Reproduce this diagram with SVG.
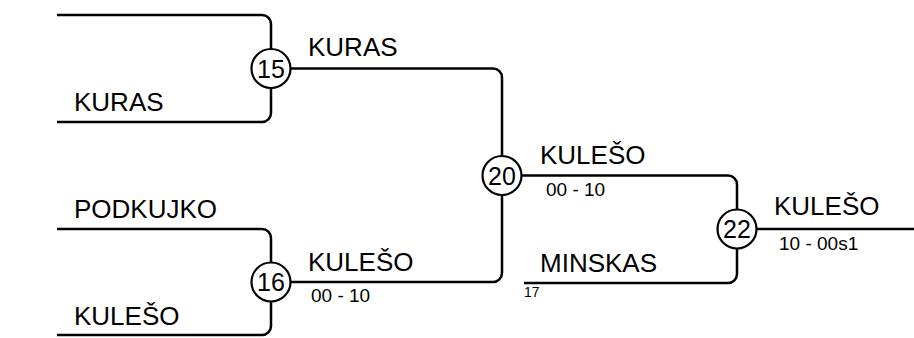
<svg xmlns="http://www.w3.org/2000/svg" width="914" height="338" viewBox="0 0 914 338">
<style>
.ln{fill:none;stroke:#000;stroke-width:2.5}
.c{fill:#fff;stroke:#000;stroke-width:2.2}
.big{font-family:"Liberation Sans",Arial,sans-serif;font-size:26px;fill:#000}
.sm{font-family:"Liberation Sans",Arial,sans-serif;font-size:19px;fill:#000}
.xs{font-family:"Liberation Sans",Arial,sans-serif;font-size:14px;fill:#000}
.num{font-family:"Liberation Sans",Arial,sans-serif;font-size:25px;fill:#000;text-anchor:middle}
</style>
<rect width="914" height="338" fill="#fff"/>
<g id="connectors">
<path class="ln" d="M57,15 H262 A9,9 0 0 1 271,24 V113 A9,9 0 0 1 262,122 H57"/>
<path class="ln" d="M57,229 H262 A9,9 0 0 1 271,238 V326 A9,9 0 0 1 262,335 H57"/>
<path class="ln" d="M271,68.5 H493 A9,9 0 0 1 502,77.5 V273 A9,9 0 0 1 493,282 H271"/>
<path class="ln" d="M502,175.5 H728 A9,9 0 0 1 737,184.5 V274 A9,9 0 0 1 728,283 H524"/>
<path class="ln" d="M737,229 H914"/>
</g>
<g id="m15"><circle class="c" cx="271" cy="68.5" r="19.5"/><text class="num" x="271" y="77.5">15</text></g>
<g id="m16"><circle class="c" cx="271" cy="282" r="19.5"/><text class="num" x="271" y="291">16</text></g>
<g id="m20"><circle class="c" cx="502" cy="175.5" r="19.5"/><text class="num" x="502" y="184.5">20</text></g>
<g id="m22"><circle class="c" cx="737" cy="229" r="19.5"/><text class="num" x="737" y="238">22</text></g>
<g id="labels">
<text class="big" x="74" y="111">KURAS</text>
<text class="big" x="74" y="218">PODKUJKO</text>
<text class="big" x="74" y="325">KULEŠO</text>
<text class="big" x="308" y="56">KURAS</text>
<text class="big" x="308" y="271">KULEŠO</text>
<text class="sm" x="311" y="302">00 - 10</text>
<text class="big" x="540" y="164">KULEŠO</text>
<text class="sm" x="546" y="196">00 - 10</text>
<text class="big" x="540" y="272">MINSKAS</text>
<text class="xs" x="524" y="297">17</text>
<text class="big" x="774" y="215">KULEŠO</text>
<text class="sm" x="779" y="250">10 - 00s1</text>
</g>
</svg>
